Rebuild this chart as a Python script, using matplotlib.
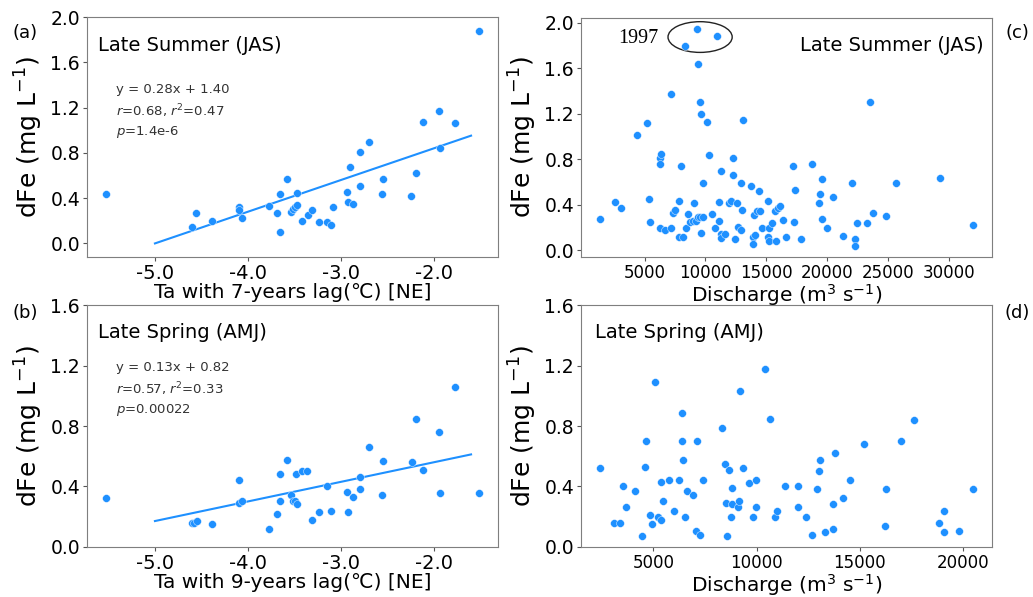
import numpy as np
import matplotlib.pyplot as plt
from matplotlib.patches import Ellipse

# dFe vs lagged air temperature (NE), late summer (JAS)
ta7 = [-5.53, -4.60, -4.56, -4.39, -4.10, -4.10, -4.06, -3.77, -3.69, -3.65,
       -3.65, -3.58, -3.54, -3.51, -3.49, -3.47, -3.47, -3.42, -3.35, -3.31,
       -3.24, -3.15, -3.11, -3.08, -2.93, -2.92, -2.87, -2.90, -2.79, -2.79,
       -2.70, -2.55, -2.56, -2.25, -2.19, -2.12, -1.95, -1.93, -1.77, -1.51]
fe_jas_ta = [0.44, 0.145, 0.27, 0.20, 0.32, 0.295, 0.225, 0.335, 0.27, 0.44,
             0.105, 0.57, 0.28, 0.30, 0.325, 0.34, 0.445, 0.195, 0.25, 0.295,
             0.19, 0.19, 0.16, 0.325, 0.45, 0.365, 0.35, 0.675, 0.51, 0.81,
             0.895, 0.57, 0.435, 0.415, 0.625, 1.07, 1.17, 0.84, 1.065, 1.88]

# late spring (AMJ), 9-year lag
ta9 = [-5.53, -4.60, -4.58, -4.55, -4.39, -4.10, -4.10, -4.06, -3.77, -3.69,
       -3.65, -3.65, -3.58, -3.54, -3.51, -3.48, -3.49, -3.47, -3.42, -3.36,
       -3.31, -3.24, -3.15, -3.11, -2.93, -2.92, -2.87, -2.79, -2.79, -2.70,
       -2.55, -2.56, -2.24, -2.19, -2.12, -1.95, -1.93, -1.77, -1.51]
fe_amj_ta = [0.325, 0.155, 0.16, 0.17, 0.15, 0.44, 0.29, 0.305, 0.12, 0.22,
             0.48, 0.305, 0.575, 0.345, 0.305, 0.485, 0.30, 0.285, 0.50, 0.50,
             0.18, 0.23, 0.40, 0.235, 0.36, 0.23, 0.33, 0.38, 0.46, 0.66,
             0.57, 0.34, 0.56, 0.85, 0.51, 0.76, 0.355, 1.06, 0.355]

# dFe vs river discharge
q_jas = [1310, 2540, 3090, 4370, 5190, 5350, 5460, 6280, 6340, 6280,
         6280, 6690, 7210, 7130, 7320, 7540, 7840, 7790, 8140, 8000,
         8410, 8550, 8740, 9100, 8960, 9210, 9370, 9560, 9670, 9780,
         9780, 8310, 9290, 10930, 9370, 9590, 9640, 10110, 10300, 10520,
         10790, 11120, 11120, 11260, 11310, 11310, 11640, 11940, 12100, 12290,
         12270, 12460, 12620, 12650, 12900, 12920, 13060, 13030, 13720, 13880,
         13930, 14020, 14070, 14240, 14430, 14450, 14640, 15160, 15190, 15160,
         15190, 15440, 15740, 15790, 15960, 16120, 16340, 16610, 17210, 17240,
         17350, 17810, 18740, 19340, 19400, 19540, 19540, 19940, 20440, 21260,
         22050, 22270, 22270, 22460, 23280, 23500, 23770, 24860, 25680, 29260,
         31970]
fe_jas_q = [0.28, 0.425, 0.37, 1.01, 1.12, 0.45, 0.25, 0.81, 0.85, 0.76,
            0.20, 0.18, 0.20, 1.375, 0.33, 0.355, 0.435, 0.12, 0.12, 0.745,
            0.20, 0.32, 0.25, 0.42, 0.26, 0.26, 0.29, 0.295, 0.155, 0.29,
            0.595, 1.80, 1.95, 1.885, 1.64, 1.30, 1.20, 1.125, 0.835, 0.32,
            0.20, 0.255, 0.425, 0.695, 0.14, 0.105, 0.14, 0.415, 0.43, 0.815,
            0.66, 0.10, 0.415, 0.205, 0.18, 0.59, 1.15, 0.355, 0.57, 0.12,
            0.055, 0.31, 0.135, 0.345, 0.525, 0.35, 0.20, 0.435, 0.20, 0.12,
            0.08, 0.24, 0.345, 0.08, 0.375, 0.39, 0.27, 0.12, 0.74, 0.25,
            0.535, 0.10, 0.76, 0.42, 0.50, 0.63, 0.275, 0.20, 0.47, 0.13,
            0.595, 0.10, 0.035, 0.24, 0.24, 1.30, 0.325, 0.305, 0.595, 0.64,
            0.22]

q_amj = [2390, 3110, 3390, 3500, 3660, 4100, 4450, 4570, 4630, 4810,
         4920, 5080, 5210, 5360, 5360, 5470, 5770, 6000, 6260, 6370,
         6400, 6450, 6520, 6610, 6920, 7080, 7130, 7240, 7420, 8320,
         8470, 8500, 8570, 8660, 8760, 8810, 8820, 9100, 9160, 9190,
         9360, 9650, 9820, 9950, 9980, 10390, 10650, 10900, 10970, 11370,
         12020, 12020, 12400, 12680, 12920, 13000, 13070, 13310, 13680, 13680,
         13780, 14210, 14520, 15190, 16210, 16290, 17020, 17630, 18820, 19070,
         19070, 19790, 20490]
fe_amj_q = [0.52, 0.16, 0.16, 0.40, 0.26, 0.37, 0.07, 0.53, 0.70, 0.21,
            0.15, 1.09, 0.20, 0.175, 0.43, 0.30, 0.44, 0.235, 0.44, 0.70,
            0.89, 0.575, 0.20, 0.37, 0.34, 0.105, 0.70, 0.08, 0.44, 0.785,
            0.55, 0.29, 0.07, 0.51, 0.20, 0.39, 0.28, 0.26, 0.305, 1.03,
            0.52, 0.42, 0.20, 0.26, 0.445, 1.18, 0.85, 0.20, 0.235, 0.40,
            0.40, 0.26, 0.20, 0.08, 0.38, 0.50, 0.575, 0.10, 0.28, 0.12,
            0.62, 0.32, 0.445, 0.68, 0.14, 0.38, 0.70, 0.84, 0.16, 0.235,
            0.10, 0.105, 0.38]

# regression results
fit7 = (0.28, 1.40)
fit9 = (0.13, 0.82)
stats7 = ["y = 0.28x + 1.40", "$r$=0.68, $r^2$=0.47", "$p$=1.4e-6"]
stats9 = ["y = 0.13x + 0.82", "$r$=0.57, $r^2$=0.33", "$p$=0.00022"]

plt.rcParams['axes.unicode_minus'] = False
blue = '#1E90FF'
fig = plt.figure(figsize=(10.33, 5.97), dpi=100)

ax_a = fig.add_axes([0.0842, 0.5695, 0.398, 0.402])
ax_b = fig.add_axes([0.0842, 0.0843, 0.398, 0.404])
ax_c = fig.add_axes([0.5624, 0.5690, 0.3976, 0.4015])
ax_d = fig.add_axes([0.5624, 0.0843, 0.3976, 0.404])

def style(ax, xsize):
    for s in ax.spines.values():
        s.set_color('#7f7f7f')
    ax.tick_params(axis='y', labelsize=13.5, color='#555555', length=3, pad=2)
    ax.tick_params(axis='x', labelsize=xsize, color='#555555', length=3, pad=2)
    ax.set_ylabel("dFe (mg L$^{-1}$)", fontsize=18)

def scatter(ax, x, y):
    ax.scatter(x, y, s=32, color=blue, edgecolor='white', linewidth=0.3, zorder=3)

# (a)
scatter(ax_a, ta7, fe_jas_ta)
xl = np.array([-5.0, -1.6])
ax_a.plot(xl, fit7[0] * xl + fit7[1], color=blue, lw=1.5)
ax_a.set_ylim(-0.12, 2.0)
ax_a.set_yticks([0.0, 0.4, 0.8, 1.2, 1.6, 2.0])
ax_a.set_xticks([-5.0, -4.0, -3.0, -2.0])
ax_a.xaxis.set_major_formatter(plt.FormatStrFormatter('%.1f'))
ax_a.set_xlabel("Ta with 7-years lag(℃) [NE]", fontsize=14.5, labelpad=0)
ax_a.text(0.027, 0.883, "Late Summer (JAS)", transform=ax_a.transAxes,
          fontsize=14, va='center')
for i, t in enumerate(stats7):
    ax_a.text(0.07, 0.696 - i * 0.088, t, transform=ax_a.transAxes,
              fontsize=9.5, va='center', color='#333333')

# (b)
scatter(ax_b, ta9, fe_amj_ta)
ax_b.plot(xl, fit9[0] * xl + fit9[1], color=blue, lw=1.5)
ax_b.set_ylim(0, 1.6)
ax_b.set_yticks([0.0, 0.4, 0.8, 1.2, 1.6])
ax_b.set_xticks([-5.0, -4.0, -3.0, -2.0])
ax_b.xaxis.set_major_formatter(plt.FormatStrFormatter('%.1f'))
ax_b.set_xlabel("Ta with 9-years lag(℃) [NE]", fontsize=14.5, labelpad=0)
ax_b.text(0.027, 0.888, "Late Spring (AMJ)", transform=ax_b.transAxes,
          fontsize=14, va='center')
for i, t in enumerate(stats9):
    ax_b.text(0.07, 0.742 - i * 0.088, t, transform=ax_b.transAxes,
              fontsize=9.5, va='center', color='#333333')

# (c)
scatter(ax_c, q_jas, fe_jas_q)
ax_c.set_yticks([0.0, 0.4, 0.8, 1.2, 1.6, 2.0])
ax_c.set_xticks([5000, 10000, 15000, 20000, 25000, 30000])
ax_c.set_xlabel("Discharge (m$^3$ s$^{-1}$)", fontsize=14.5, labelpad=0)
ax_c.text(0.98, 0.883, "Late Summer (JAS)", transform=ax_c.transAxes,
          fontsize=14, va='center', ha='right')
ax_c.add_patch(Ellipse((9560, 1.875), 5270, 0.27, fill=False,
                       edgecolor='#222222', lw=1.0))
ax_c.text(6150, 1.86, "1997", fontsize=14.5, family='Liberation Serif',
          ha='right', va='center')

# (d)
scatter(ax_d, q_amj, fe_amj_q)
ax_d.set_ylim(0, 1.6)
ax_d.set_yticks([0.0, 0.4, 0.8, 1.2, 1.6])
ax_d.set_xticks([5000, 10000, 15000, 20000])
ax_d.set_xlabel("Discharge (m$^3$ s$^{-1}$)", fontsize=14.5, labelpad=0)
ax_d.text(0.034, 0.888, "Late Spring (AMJ)", transform=ax_d.transAxes,
          fontsize=14, va='center')

style(ax_a, 14)
style(ax_b, 14)
style(ax_c, 12)
style(ax_d, 12)

fig.text(0.024, 0.945, "(a)", fontsize=13, ha='center', va='center')
fig.text(0.024, 0.476, "(b)", fontsize=13, ha='center', va='center')
fig.text(0.985, 0.945, "(c)", fontsize=13, ha='center', va='center')
fig.text(0.985, 0.476, "(d)", fontsize=13, ha='center', va='center')

fig.savefig("out.png", dpi=100)
